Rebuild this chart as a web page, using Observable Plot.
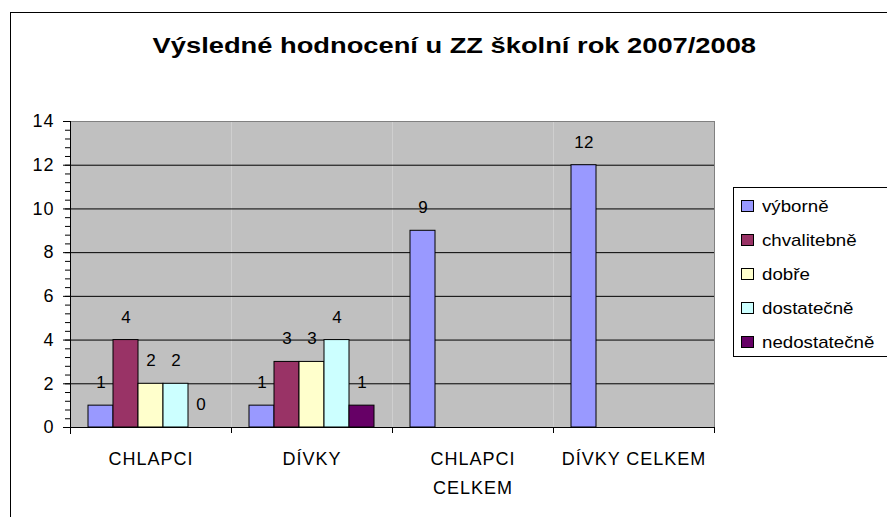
<!DOCTYPE html>
<html>
<head>
<meta charset="utf-8">
<script src="https://cdn.jsdelivr.net/npm/d3@7"></script>
<script src="https://cdn.jsdelivr.net/npm/@observablehq/plot@0.6"></script>
<style>
  html, body { margin: 0; padding: 0; background: #fff; width: 887px; height: 517px; overflow: hidden;
    font-family: "Liberation Sans", Arial, sans-serif; color: #000; }
  #frame { position: absolute; left: 10px; top: 12px; width: 888px; height: 530px; border: 1px solid #000; box-sizing: border-box; }
  #title { position: absolute; left: 10px; top: 35px; width: 888px; text-align: center;
    font-size: 22px; line-height: 22px; font-weight: bold; white-space: nowrap; }
  #title span { display: inline-block; transform: scaleX(1.24); transform-origin: center; }
  #chart { position: absolute; left: 0; top: 100px; }
  #chart text { letter-spacing: 1px; }
  #chart .vals text { letter-spacing: 0.3px; }
  #legend { position: absolute; left: 733px; top: 187px; width: 200px; height: 170px; box-sizing: border-box;
    border: 1px solid #000; background: #fff; padding-top: 1px; }
  .item { position: relative; height: 34px; display: flex; align-items: center; }
  .sw { width: 13px; height: 12px; box-sizing: border-box; border: 1px solid #000; margin-left: 7px; flex: none; }
  .lab { display: inline-block; font-size: 17px; line-height: 17px; margin-left: 8px; transform: scaleX(1.1); transform-origin: left center; white-space: nowrap; }
</style>
</head>
<body>
<div id="frame"></div>
<div id="title"><span>Výsledné hodnocení u ZZ školní rok 2007/2008</span></div>
<div id="chart"></div>
<div id="legend"></div>
<script>
// ---- data ----
const categories = ["CHLAPCI", "DÍVKY", "CHLAPCI CELKEM", "DÍVKY CELKEM"];
const categoryLabels = ["CHLAPCI", "DÍVKY", "CHLAPCI\nCELKEM", "DÍVKY CELKEM"];
const series = ["výborně", "chvalitebně", "dobře", "dostatečně", "nedostatečně"];
const colors = ["#9999FF", "#993366", "#FFFFCC", "#CCFFFF", "#660066"];
const chlapci = [1, 4, 2, 2, 0];
const divky = [1, 3, 3, 4, 1];
const chlapciCelkem = [9, null, null, null, null];
const divkyCelkem = [12, null, null, null, null];
const yTicks = [0, 2, 4, 6, 8, 10, 12, 14];
const gridValues = [2, 4, 6, 8, 10, 12];
const yMinorStep = 0.4;

const valuesByCategory = [chlapci, divky, chlapciCelkem, divkyCelkem];
const rows = [];
categories.forEach((c, ci) => {
  series.forEach((s, si) => {
    const v = valuesByCategory[ci][si];
    if (v !== null && v !== undefined) rows.push({category: c, series: s, value: v});
  });
});
const yMinor = d3.range(0, 14 + 1e-9, yMinorStep).map(v => +v.toFixed(2));

const W = 720, H = 417, ML = 70, MR = 6, MT = 21, MB = 90;
const halfBand = (W - ML - MR) / categories.length / 2;

const plot = Plot.plot({
  width: W, height: H,
  marginLeft: ML, marginRight: MR, marginTop: MT, marginBottom: MB,
  style: {fontFamily: '"Liberation Sans", Arial, sans-serif', fontSize: "18px", color: "#000", background: "transparent", overflow: "visible"},
  fx: {domain: categories, padding: 0, label: null, axis: null},
  x: {domain: series, paddingInner: 0, paddingOuter: 0.72, axis: null},
  y: {domain: [0, 14], axis: null},
  color: {domain: series, range: colors},
  marks: [
    Plot.frame({fill: "#C0C0C0", stroke: null}),
    Plot.ruleY(gridValues, {stroke: "#000", strokeWidth: 1}),
    Plot.frame({anchor: "top", stroke: "#808080"}),
    Plot.frame({anchor: "right", stroke: "#808080", facetAnchor: "right"}),
    Plot.barY(rows.filter(d => d.value > 0), {fx: "category", x: "series", y: "value", fill: "series", stroke: "#000", strokeWidth: 1}),
    Plot.text(rows, {fx: "category", x: "series", y: "value", text: d => String(d.value), dy: -23, fontSize: 17, fill: "#000", className: "vals"}),
    Plot.ruleY([0], {stroke: "#000"}),
    Plot.frame({anchor: "left", stroke: "#000", facetAnchor: "left", insetBottom: -6}),
    Plot.axisY({ticks: yMinor, tickSize: 5, tickFormat: () => "", label: null}),
    Plot.axisY({ticks: yTicks, tickSize: 7, tickPadding: 9, fontSize: 18, label: null, tickFormat: d => String(d)}),
    Plot.axisFx({anchor: "bottom", tickSize: 6, tickFormat: () => "", label: null, dx: -halfBand}),
    Plot.axisFx({anchor: "bottom", tickSize: 6, tickFormat: () => "", label: null, dx: halfBand}),
    Plot.axisFx({anchor: "bottom", tickSize: 0, tickPadding: 17, fontSize: 18, lineHeight: 1.6, label: null,
      tickFormat: d => categoryLabels[categories.indexOf(d)]})
  ]
});
document.getElementById("chart").appendChild(plot);

// ---- legend ----
const legend = document.getElementById("legend");
series.forEach((s, i) => {
  const item = document.createElement("div");
  item.className = "item";
  const sw = document.createElement("span");
  sw.className = "sw";
  sw.style.background = colors[i];
  const lab = document.createElement("span");
  lab.className = "lab";
  lab.textContent = s;
  item.appendChild(sw);
  item.appendChild(lab);
  legend.appendChild(item);
});
</script>
</body>
</html>
